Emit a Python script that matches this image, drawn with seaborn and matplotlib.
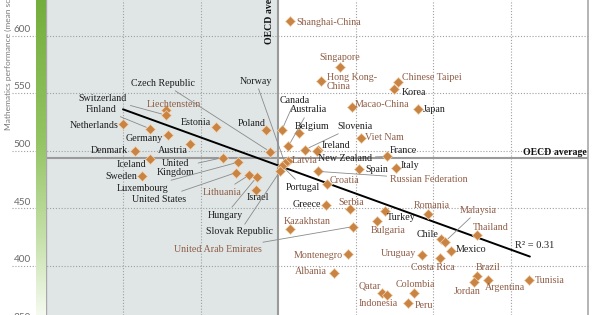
import numpy as np
import pandas as pd
import matplotlib
matplotlib.use("Agg")
import matplotlib.pyplot as plt
import seaborn as sns
from matplotlib import transforms
from matplotlib.colors import LinearSegmentedColormap

# ---------------- data ----------------
countries = ["Shanghai-China", "Singapore", "Hong Kong-China", "Chinese Taipei", "Korea",
             "Macao-China", "Japan", "Liechtenstein", "Switzerland", "Netherlands",
             "Estonia", "Finland", "Canada", "Poland", "Belgium", "Germany", "Viet Nam",
             "Austria", "Australia", "Ireland", "Slovenia", "Denmark", "New Zealand",
             "Czech Republic", "France", "United Kingdom", "Iceland", "Latvia",
             "Luxembourg", "Norway", "Portugal", "Italy", "Spain", "Russian Federation",
             "Slovak Republic", "United States", "Lithuania", "Sweden", "Hungary",
             "Croatia", "Israel", "Greece", "Serbia", "Turkey", "Romania", "Bulgaria",
             "United Arab Emirates", "Kazakhstan", "Thailand", "Chile", "Malaysia",
             "Mexico", "Montenegro", "Uruguay", "Costa Rica", "Albania", "Brazil",
             "Argentina", "Tunisia", "Jordan", "Colombia", "Qatar", "Indonesia", "Peru"]
anxiety = [0.03, 0.16, 0.11, 0.31, 0.30,
           0.19, 0.36, -0.29, -0.29, -0.40,
           -0.16, -0.33, 0.01, -0.03, 0.055, -0.285, 0.215,
           -0.227, 0.027, 0.104, 0.07, -0.37, 0.10,
           -0.02, 0.28, -0.143, -0.33, 0.025,
           -0.103, 0.018, 0.01, 0.305, 0.21, 0.104,
           0.005, -0.108, -0.074, -0.35, -0.055,
           0.126, -0.057, 0.124, 0.186, 0.276, 0.388, 0.255,
           0.193, 0.031, 0.513, 0.42, 0.431,
           0.446, 0.181, 0.371, 0.418, 0.145, 0.513,
           0.543, 0.649, 0.507, 0.352, 0.268, 0.282, 0.336]
math_score = [613, 573, 561, 560, 554,
              538, 536, 535, 531, 523,
              521, 519, 518, 518, 515, 514, 511,
              506, 504, 501, 501, 500, 500,
              499, 495, 494, 493, 491,
              490, 489, 487, 485, 484, 482,
              482, 481, 479, 478, 477,
              471, 466, 453, 449, 448, 445, 439,
              434, 432, 427, 423, 421,
              413, 410, 409, 407, 394, 391,
              388, 388, 386, 376, 376, 375, 368]
partners = ["Shanghai-China", "Singapore", "Hong Kong-China", "Chinese Taipei",
            "Macao-China", "Liechtenstein", "Viet Nam", "Latvia", "Russian Federation",
            "Lithuania", "Croatia", "Serbia", "Romania", "Bulgaria",
            "United Arab Emirates", "Kazakhstan", "Thailand", "Malaysia", "Montenegro",
            "Uruguay", "Costa Rica", "Albania", "Brazil", "Argentina", "Tunisia",
            "Jordan", "Colombia", "Qatar", "Indonesia", "Peru"]
oecd_mean_anxiety = 0.0
oecd_mean_math = 494
trend_x = [-0.40, 0.65]
trend_y = [536, 408]
r_squared = 0.31
y_ticks = [350, 400, 450, 500, 550, 600]
x_grid = [-0.4, -0.2, 0.2, 0.4, 0.6]

df = pd.DataFrame({"country": countries, "anxiety": anxiety, "math": math_score})
df["group"] = np.where(df["country"].isin(partners), "Partner", "OECD")

# ---------------- layout ----------------
W, H = 600, 315
# label placement in image pixels: (x, y_center, ha, leader target or None)
label_layout = {
    "Shanghai-China": (296, 22, "left", None),
    "Singapore": (340, 57, "center", None),
    "Hong Kong-China": (327, 82, "left", None),
    "Chinese Taipei": (402, 77, "left", None),
    "Korea": (402, 92, "left", None),
    "Macao-China": (355, 104, "left", None),
    "Japan": (423, 109, "left", None),
    "Liechtenstein": (174, 104, "center", None),
    "Switzerland": (127, 98, "right", "Switzerland"),
    "Finland": (117, 109, "right", "Finland"),
    "Netherlands": (119, 125, "right", None),
    "Estonia": (211, 122, "right", None),
    "Poland": (266, 124, "right", None),
    "Germany": (163, 138, "right", None),
    "Denmark": (128, 150, "right", None),
    "Austria": (188, 150, "right", None),
    "Czech Republic": (195, 83, "right", "Czech Republic"),
    "Norway": (272, 81, "right", "Norway"),
    "Canada": (280, 100, "left", "Canada"),
    "Australia": (290, 110, "left", "Australia"),
    "Belgium": (295, 126, "left", None),
    "Slovenia": (337, 126, "left", "Slovenia"),
    "Ireland": (322, 145, "left", None),
    "New Zealand": (318, 158, "left", "France"),
    "France": (390, 150, "left", None),
    "Viet Nam": (365, 137, "left", None),
    "Latvia": (292, 160, "left", None),
    "Portugal": (286, 187, "left", "Portugal"),
    "Spain": (365, 169, "left", None),
    "Italy": (401, 165, "left", None),
    "Russian Federation": (390, 179, "left", "Russian Federation"),
    "Croatia": (330, 180, "left", None),
    "Greece": (321, 204, "right", None),
    "Serbia": (338, 202, "left", None),
    "Kazakhstan": (284, 221, "left", None),
    "Turkey": (387, 217, "left", None),
    "Bulgaria": (371, 230, "left", None),
    "Romania": (414, 205, "left", None),
    "Malaysia": (460, 210, "left", "Malaysia"),
    "Thailand": (473, 227, "left", None),
    "Chile": (417, 234, "left", None),
    "Mexico": (456, 250, "left", None),
    "Montenegro": (343, 255, "right", None),
    "Uruguay": (416, 253, "right", None),
    "Costa Rica": (411, 267, "left", None),
    "Albania": (327, 272, "right", None),
    "Brazil": (476, 267, "left", None),
    "Argentina": (485, 287, "left", None),
    "Jordan": (454, 291, "left", None),
    "Tunisia": (535, 280, "left", None),
    "Qatar": (359, 286, "left", None),
    "Colombia": (396, 284, "left", None),
    "Indonesia": (359, 303, "left", None),
    "Peru": (415, 305, "left", None),
    "Iceland": (146, 164, "right", None),
    "United Kingdom": (176, 168, "center", "United Kingdom"),
    "Sweden": (137, 176, "right", None),
    "Luxembourg": (168, 188, "right", "Luxembourg"),
    "United States": (186, 199, "right", "United States"),
    "Lithuania": (242, 192, "right", "Lithuania"),
    "Israel": (247, 197, "left", None),
    "Hungary": (243, 215, "right", "Hungary"),
    "Slovak Republic": (273, 232, "right", "Slovak Republic"),
    "United Arab Emirates": (262, 250, "right", "United Arab Emirates"),
}
display_names = {"Hong Kong-China": "Hong Kong-\nChina", "United Kingdom": "United\nKingdom"}

sns.set_theme(style="white")
plt.rcParams["font.family"] = ["Liberation Serif", "DejaVu Serif"]

fig = plt.figure(figsize=(6, 3.15), dpi=100)
ax = fig.add_axes([45.5 / W, 0, 542.5 / W, 1])
ax.set_xlim(-0.6, 0.8)
ax.set_ylim(357.2, 631)

# green gradient bar on the left
gax = fig.add_axes([36 / W, 0, 9.5 / W, 1])
cmap = LinearSegmentedColormap.from_list("g", [(0, "#74ae3c"), (0.45, "#94c464"), (0.75, "#c4e0a8"), (1, "#f5faf0")])
gax.imshow(np.linspace(0, 1, 256).reshape(-1, 1), aspect="auto", cmap=cmap)
gax.set_axis_off()

# shaded region left of OECD average
ax.axvspan(-0.6, oecd_mean_anxiety, color="#e0e6e6", zorder=0, lw=0)

# grid
for gx in x_grid:
    ax.axvline(gx, color="#a0a0a0", lw=0.8, ls=(0, (1, 1.6)), zorder=1)
blend = transforms.blended_transform_factory(fig.transFigure, ax.transData)
for yt in y_ticks:
    ax.plot([12 / W, 588 / W], [yt, yt], transform=blend, color="#a0a0a0", lw=0.8,
            ls=(0, (1, 1.6)), clip_on=False, zorder=1)
    ax.text(31 / W, yt + 1.5, str(yt), transform=blend, ha="right", va="bottom",
            fontsize=7.2, color="#6a6a6a", family=["Lato", "DejaVu Sans"])

# OECD average lines
ax.axvline(oecd_mean_anxiety, color="#9a9a9a", lw=1.5, zorder=2)
ax.axhline(oecd_mean_math, color="#9a9a9a", lw=1.5, zorder=2)

# trend line
ax.plot(trend_x, trend_y, color="black", lw=1.4, zorder=3)

# points
sns.scatterplot(data=df, x="anxiety", y="math", marker="D", s=26, color="#c98444",
                edgecolor="#f2d2ae", linewidth=0.5, zorder=5, ax=ax, legend=False)

inv = ax.transData.inverted()
def to_data(px, py):
    return inv.transform((px, H - py))

lookup = df.set_index("country")
for name, (lx, ly, ha, target) in label_layout.items():
    tx, ty = to_data(lx, ly)
    color = "#8e5c46" if name in partners else "#1c1c1c"
    kw = {}
    if target is not None:
        kw["arrowprops"] = dict(arrowstyle="-", color="#8a8a8a", lw=0.6, shrinkA=0, shrinkB=3)
    ax.annotate(display_names.get(name, name),
                xy=(lookup.loc[target, "anxiety"], lookup.loc[target, "math"]) if target else (tx, ty),
                xytext=(tx, ty), textcoords="data", ha=ha, va="center",
                fontsize=7.2, color=color, zorder=6, linespacing=0.95, **kw)

# annotations
rx, ry = to_data(515, 246)
ax.text(rx, ry, f"R² = {r_squared:.2f}", ha="left", va="center", fontsize=7.5, color="#222222")
hx, hy = to_data(523, 152)
ax.text(hx, hy, "OECD average", ha="left", va="center", fontsize=7, fontweight="bold", color="#111111")
vx, vy = to_data(269.5, 44.3)
ax.text(vx, vy, "OECD average", ha="center", va="bottom", rotation=90, fontsize=7,
        fontweight="bold", color="#111111")

fig.text(8 / W, 1 - 130 / H, "Mathematics performance (mean score)", rotation=90,
         ha="center", va="bottom", fontsize=6, color="#7a7a7a", family=["Lato", "DejaVu Sans"])

ax.set_xlabel("")
ax.set_ylabel("")
ax.set_xticks([])
ax.set_yticks([])
for s in ["top", "bottom"]:
    ax.spines[s].set_visible(False)
ax.spines["left"].set_color("#a8a8a8")
ax.spines["right"].set_color("#a8a8a8")
ax.spines["left"].set_linewidth(1.0)
ax.spines["right"].set_linewidth(1.2)

fig.savefig("out.png", dpi=100)
